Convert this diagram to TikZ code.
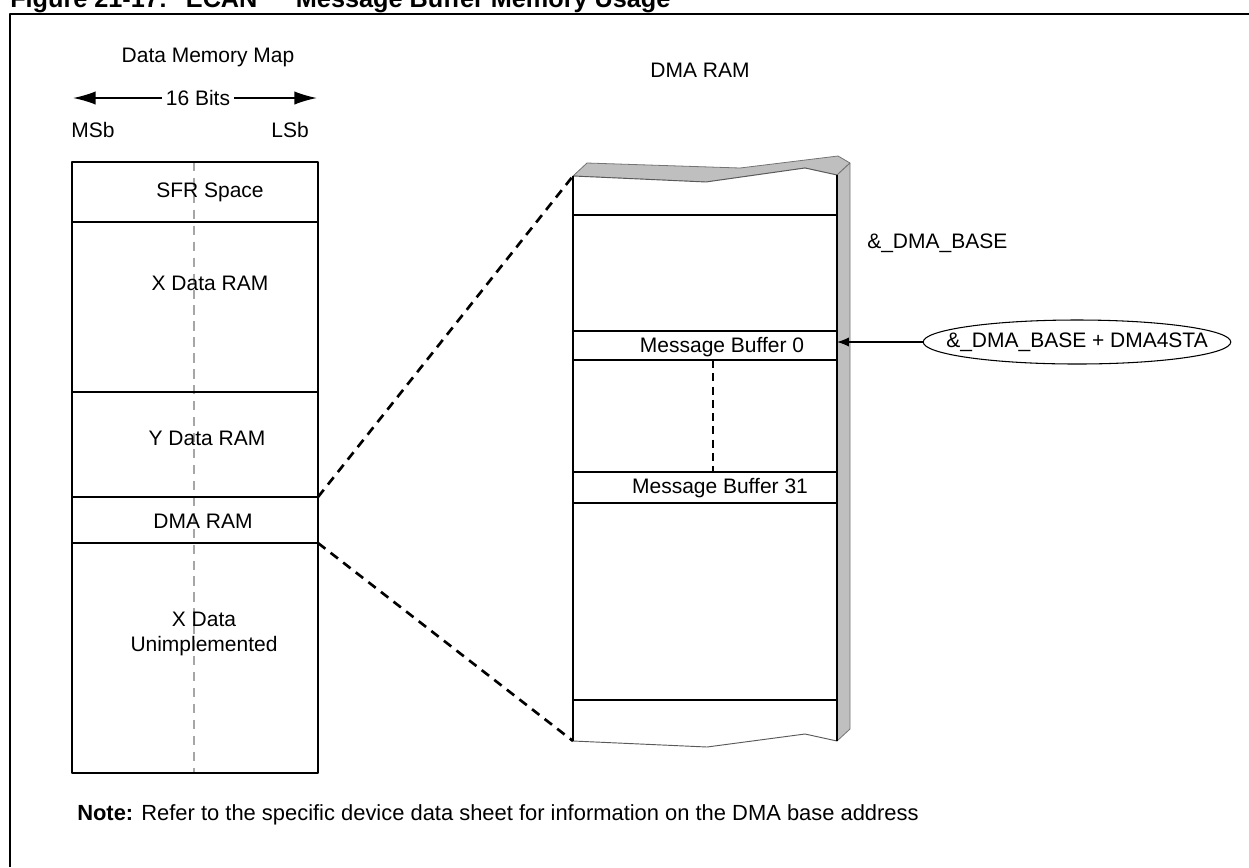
\documentclass[tikz,border=0pt]{standalone}
\usepackage{fontspec}
\setmainfont{Liberation Sans}
\usetikzlibrary{arrows.meta}
\usetikzlibrary{shapes.geometric}

\tikzset{
  lbl/.style={font=\fontsize{15.8}{19}\selectfont, inner sep=0pt},
  mapedge/.style={line width=1.5pt},
  midline/.style={draw=black!35, line width=0.9pt, dash pattern=on 7pt off 5pt},
  zoomline/.style={line width=2pt, dash pattern=on 7pt off 5pt},
  thinrule/.style={line width=0.8pt},
  thickrule/.style={line width=1.4pt},
  shade/.style={fill=black!25, draw=black!55, line width=0.6pt},
}

\begin{document}
\begin{tikzpicture}[x=0.75bp,y=-0.75bp,>={Latex[length=9pt,width=7pt]},line join=bevel]
\useasboundingbox (0,0) rectangle (1249,867);
%%
\node (fig_title) at (10,7) [anchor=base west,inner sep=0pt,font=\fontsize{19}{22}\selectfont\bfseries] {Figure 21-17:\hspace{14pt}ECAN™\hspace{10pt}Message Buffer Memory Usage};
\draw [mapedge] (10,867) -- (10,14) -- (1249,14);
%% data memory map
\draw [midline] (194,162) -- (194,773);
\draw [mapedge] (72,162) rectangle (318,773);
\foreach \y in {222,392,497,543}
  \draw [mapedge] (72,\y) -- (318,\y);
\node (map_title) at (208,57) [lbl] {Data Memory Map};
\node (bits) at (198,98) [lbl,inner xsep=3pt] {16 Bits};
\coordinate (bits_l) at (73,98);
\coordinate (bits_r) at (317,98);
\draw [->,line width=1.2pt,>={Latex[length=17pt,width=10pt]}] (bits) -- (bits_l);
\draw [->,line width=1.2pt,>={Latex[length=17pt,width=10pt]}] (bits) -- (bits_r);
\node (msb) at (93,130) [lbl] {MSb};
\node (lsb) at (290,130) [lbl] {LSb};
\node (sfr) at (210,192) [lbl] {SFR Space};
\node (xram) at (210,283) [lbl] {X Data RAM};
\node (yram) at (207,438) [lbl] {Y Data RAM};
\node (dmaram) at (203,521) [lbl] {DMA RAM};
\node (unimpl) at (204,634) [lbl,align=center] {X Data\\Unimplemented};
\coordinate (dma_top) at (318,497);
\coordinate (dma_bot) at (318,543);
%% dma ram block
\node (dma_title) at (700,70) [lbl] {DMA RAM};
\draw [shade] (573,176) -- (587,163) -- (740,168) -- (838,156) -- (850,163) -- (837,175) -- (805,168) -- (706,182) -- cycle;
\draw [shade] (837,175) -- (850,163) -- (850,729) -- (837,741) -- cycle;
\draw [fill=white,draw=black!65,line width=0.7pt] (573,176) -- (706,182) -- (805,168) -- (837,175) -- (837,741) -- (805,734) -- (707,747) -- (573,741) -- cycle;
\draw [line width=0.9pt] (573,176) -- (573,741);
\draw [line width=0.9pt] (837,175) -- (837,741);
\coordinate (blk_top) at (573,176);
\coordinate (blk_bot) at (573,741);
\foreach \y in {215,360,472,700}
  \draw [thinrule] (573,\y) -- (837,\y);
\foreach \y in {331,503}
  \draw [thickrule] (573,\y) -- (837,\y);
\draw [line width=0.9pt,dash pattern=on 6pt off 4pt] (713,360) -- (713,472);
\node (buf_0) at (722,347) [lbl] {Message Buffer 0};
\node (buf_31) at (720,488) [lbl] {Message Buffer 31};
\node (dma_base) at (867,243) [lbl,anchor=west] {\&\_DMA\_BASE};
\node (base_sta) at (1077,342) [lbl,draw,ellipse,line width=0.8pt,inner xsep=-16.5bp,inner ysep=0pt,minimum height=33bp] {\&\_DMA\_BASE + DMA4STA};
\coordinate (buf_ptr) at (837,342);
\draw [->,line width=0.9pt] (base_sta) -- (buf_ptr);
%% zoom lines
\draw [zoomline] (dma_top) -- (blk_top);
\draw [zoomline] (dma_bot) -- (blk_bot);
%
\node (note) at (77,815) [lbl,anchor=west,font=\fontsize{16.5}{20}\selectfont] {\textbf{Note:} Refer to the specific device data sheet for information on the DMA base address};
\end{tikzpicture}
\end{document}
